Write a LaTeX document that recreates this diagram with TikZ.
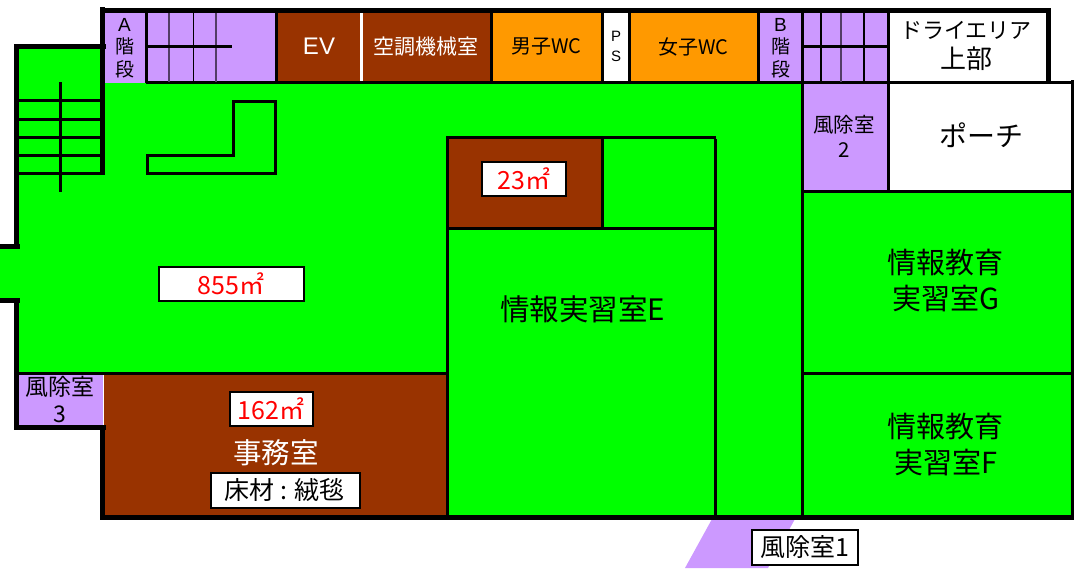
\documentclass[tikz,border=0pt]{standalone}
\usepackage{fontspec}
\setmainfont{Noto Sans CJK JP}
\newfontfamily\latinf{Liberation Sans}
\definecolor{gr}{HTML}{00FF00}
\definecolor{pu}{HTML}{CC99FF}
\definecolor{br}{HTML}{993300}
\definecolor{og}{HTML}{FF9900}
\newcommand{\fs}[2]{\fontsize{#1}{#2}\selectfont}
\tikzset{
  x=1pt,y=-1pt,
  wall/.style={line width=5pt,line cap=butt},
  mid/.style={line width=3pt},
  thin stair/.style={line width=1.5pt},
  tag/.style={draw=black,fill=white,line width=2pt,inner sep=0pt,anchor=center},
  lbl/.style={inner sep=0pt,align=center,anchor=center},
}
\begin{document}
\begin{tikzpicture}
\useasboundingbox (0,0) rectangle (1074,568);
% fills
\fill[gr] (16,47) rectangle (103,175);
\fill[gr] (0,247) rectangle (20,300);
\fill[gr] (16,83) rectangle (1072,374);
\fill[gr] (447,374) rectangle (1072,517);
\fill[pu] (105,13) rectangle (276,83);
\fill[br] (277,13) rectangle (361,83);
\fill[white] (360,13) rectangle (363,83);
\fill[br] (363,13) rectangle (491,83);
\fill[og] (491,13) rectangle (602,83);
\fill[og] (630,13) rectangle (759,83);
\fill[pu] (759,13) rectangle (888,83);
\fill[pu] (803,83) rectangle (888,190);
\fill[white] (888,83) rectangle (1072,190);
\fill[pu] (17,375) rectangle (103,427);
\fill[br] (104,374) rectangle (447,516);
\fill[br] (447,138) rectangle (603,228);
\fill[pu] (712,519) -- (795,519) -- (768,568) -- (685,568) -- cycle;
% outer walls
\draw[wall] (102.5,7) -- (102.5,175);
\draw[wall] (14,46.5) -- (106,46.5);
\draw[wall] (100,10.5) -- (1050,10.5);
\draw[wall] (16.5,44) -- (16.5,248);
\draw[wall] (0,246) -- (20,246);
\draw[wall] (0,300) -- (20,300);
\draw[wall] (16.5,298) -- (16.5,430);
\draw[wall] (14,427.5) -- (106,427.5);
\draw[wall] (102.5,425) -- (102.5,520);
\draw[wall] (100,517.5) -- (1074,517.5);
\draw[wall] (1048,8) -- (1048,84);
\draw[mid] (146,82) -- (1074,82);
\draw[mid] (1072.5,80) -- (1072.5,517);
% left stair
\foreach \yy in {100.5,119,137,155,173} \draw[mid] (18,\yy) -- (103,\yy);
\draw[mid] (60.5,82) -- (60.5,192);
% L shape
\draw[mid] (147,155) -- (233,155) -- (233,101) -- (275.5,101) -- (275.5,173) -- (147,173) -- cycle;
% stair A
\draw[mid] (146.5,13) -- (146.5,83);
\draw[thin stair,black!60!pu] (169,13) -- (169,82);
\draw[thin stair] (193.5,13) -- (193.5,82);
\draw[thin stair,black!60!pu] (216,13) -- (216,82);
\draw[mid] (146,46.5) -- (232,46.5);
% top band dividers
\draw[mid] (276,13) -- (276,82);
\draw[mid] (491,13) -- (491,82);
\draw[mid] (602.5,13) -- (602.5,82);
\draw[mid] (629.5,13) -- (629.5,82);
\draw[mid] (758.5,13) -- (758.5,82);
\draw[mid] (802,13) -- (802,517);
\draw[mid] (888,13) -- (888,192);
% stair B
\draw[thin stair] (821,13) -- (821,82);
\draw[thin stair,black!60!pu] (841,13) -- (841,82);
\draw[thin stair] (864,13) -- (864,82);
\draw[mid] (802,46.5) -- (888,46.5);
% right rooms
\draw[mid] (802,191) -- (1074,191);
\draw[mid] (802,373.5) -- (1074,373.5);
% centre block and floors
\draw[mid] (16,373.5) -- (447,373.5);
\draw[mid] (447.5,136) -- (447.5,517);
\draw[mid] (446,137.5) -- (716,137.5);
\draw[mid] (715.5,139) -- (715.5,517);
\draw[mid] (447,228.5) -- (716,228.5);
\draw[mid] (602.5,137) -- (602.5,229);
% room labels
\node[lbl,font=\fs{19}{22.5}] (stairA) at (124.5,48) {\latinf A\\階\\段};
\node[lbl,font=\fs{24}{28},text=white] (ev) at (319,46) {\latinf EV};
\node[lbl,font=\fs{21}{25},text=white] (hvac) at (425.5,47) {空調機械室};
\node[lbl,font=\fs{20}{24}] (wcm) at (546.5,46.5) {男子WC};
\node[lbl,font=\fs{20}{24}] (wcf) at (693.5,46.5) {女子WC};
\node[lbl,font=\fs{15}{20}] (ps) at (616,46) {\latinf P\\\latinf S};
\node[lbl,font=\fs{19}{22.5}] (stairB) at (780.5,48) {\latinf B\\階\\段};
\node[lbl,font=\fs{22}{30}] (dry) at (966,45.5) {ドライエリア\\{\fs{26}{30}上部}};
\node[lbl,font=\fs{20.5}{25}] (wind2) at (844,136) {風除室\\2};
\node[lbl,font=\fs{28}{32}] (porch) at (981,135) {ポーチ};
\node[lbl,font=\fs{29}{36}] (labG) at (945.5,281) {情報教育\\実習室G};
\node[lbl,font=\fs{29}{36}] (labF) at (945.5,445) {情報教育\\実習室F};
\node[lbl,font=\fs{29.5}{32}] (labE) at (582.5,309) {情報実習室E};
\node[lbl,font=\fs{23}{27}] (wind3) at (60,399.5) {風除室\\3};
\node[lbl,font=\fs{28.5}{32},text=white] (office) at (276,453) {事務室};
% tags
\node[tag,minimum width=84pt,minimum height=34pt,text=red,font=\fs{25}{26}] (a23) at (524,179) {23㎡};
\node[tag,minimum width=145pt,minimum height=34pt,text=red,font=\fs{25}{26}] (a855) at (231,284) {855㎡};
\node[tag,minimum width=83pt,minimum height=34pt,text=red,font=\fs{25}{26}] (a162) at (271,409) {162㎡};
\node[tag,minimum width=149pt,minimum height=35pt,font=\fs{25}{26}] (floor) at (285,490) {床材 : 絨毯};
\node[tag,minimum width=106pt,minimum height=35pt,font=\fs{25}{28}] (wind1) at (804.5,547) {風除室1};
\end{tikzpicture}
\end{document}
